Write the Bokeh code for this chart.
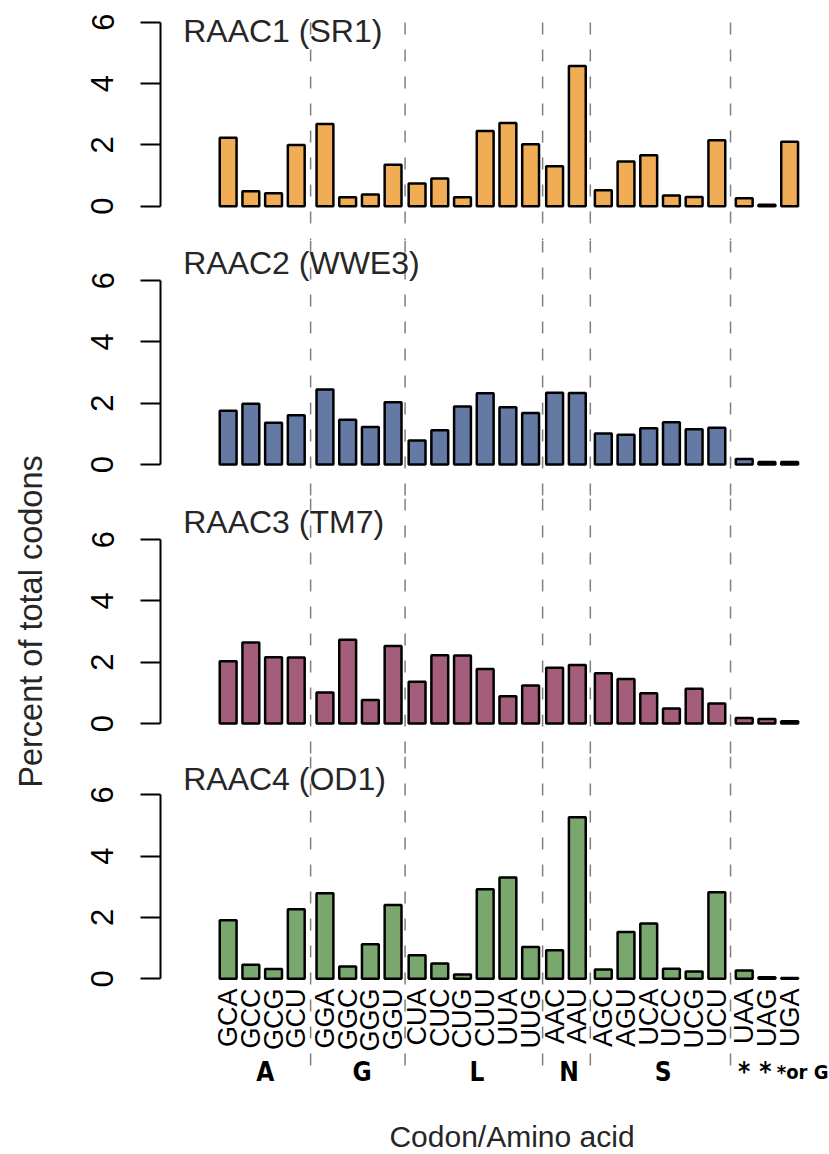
from math import pi
from bokeh.plotting import figure
from bokeh.layouts import row, column
from bokeh.models import FixedTicker, ColumnDataSource
from bokeh.core.properties import value
from bokeh.embed import file_html
from bokeh.resources import INLINE

codons = ["GCA", "GCC", "GCG", "GCU", "GGA", "GGC", "GGG", "GGU",
          "CUA", "CUC", "CUG", "CUU", "UUA", "UUG", "AAC", "AAU",
          "AGC", "AGU", "UCA", "UCC", "UCG", "UCU", "UAA", "UAG", "UGA"]
block_sizes = [4, 4, 6, 2, 6, 3]
aa_labels = ["A", "G", "L", "N", "S", "*", "*", "*or G"]
aa_sizes = [4, 4, 6, 2, 6, 1, 1, 1]

titles = ["RAAC1 (SR1)", "RAAC2 (WWE3)", "RAAC3 (TM7)", "RAAC4 (OD1)"]
colors = ["#F0AD56", "#6479A4", "#A45E7C", "#79A76D"]

sr1 = [2.23, 0.49, 0.42, 2.00, 2.68, 0.29, 0.38, 1.35, 0.74, 0.90, 0.29, 2.45,
       2.71, 2.02, 1.30, 4.57, 0.52, 1.46, 1.66, 0.35, 0.30, 2.15, 0.26, 0.05, 2.10]
wwe3 = [1.75, 1.98, 1.36, 1.61, 2.45, 1.46, 1.22, 2.03, 0.78, 1.12, 1.89, 2.32,
        1.87, 1.68, 2.34, 2.33, 1.01, 0.97, 1.18, 1.38, 1.15, 1.20, 0.18, 0.08, 0.08]
tm7 = [2.03, 2.64, 2.16, 2.15, 1.01, 2.73, 0.77, 2.53, 1.36, 2.23, 2.22, 1.78,
       0.89, 1.24, 1.82, 1.91, 1.64, 1.45, 0.99, 0.49, 1.13, 0.65, 0.18, 0.15, 0.07]
od1 = [1.91, 0.46, 0.32, 2.27, 2.79, 0.40, 1.13, 2.41, 0.77, 0.50, 0.14, 2.92,
       3.30, 1.04, 0.93, 5.27, 0.30, 1.53, 1.80, 0.33, 0.24, 2.82, 0.27, 0.05, 0.03]
series = [sr1, wwe3, tm7, od1]

# ---------------- layout constants (pixels) ----------------
PX = 18.92          # pixels per x unit
PY = 30.67          # pixels per y unit
PITCH = 1.2
BAR_W = 0.89
extra_gaps = [0.317, 0.069, 0.069, 0.174, 0.248]

LBL_W = 60
BORDER_L = 100
TOTAL_W = 829
FRAME_W = TOTAL_W - LBL_W - BORDER_L
C0 = 227.65                     # screen x of first bar centre
x0 = (LBL_W + BORDER_L - C0) / PX
x_range = (x0, x0 + FRAME_W / PX)


def sx(px):
    return (px - C0) / PX


# bar centres
centers = []
k = 0
off = 0.0
for gi, n in enumerate(block_sizes):
    if gi > 0:
        off += extra_gaps[gi - 1]
    for _ in range(n):
        centers.append(k * PITCH + off)
        k += 1
# separators
seps = []
k = 0
for gi, n in enumerate(block_sizes[:-1]):
    k += n
    seps.append((centers[k - 1] + centers[k]) / 2)
# amino acid label centres
aa_x = []
k = 0
for n in aa_sizes:
    aa_x.append((centers[k] + centers[k + n - 1]) / 2)
    k += n

heights = [240, 258, 258, 398]
top_off = [21.7, 40.0, 41.0, 38.3]       # px from fig top to y=6
title_mid = [30.8, 22.0, 23.0, 22.0]     # px from fig top to title mid-line
FONT = "Liberation Sans"

figs = []
for i in range(4):
    H = heights[i]
    ytop = 6 + top_off[i] / PY
    ybot = ytop - H / PY
    p = figure(width=TOTAL_W - LBL_W, height=H, x_range=x_range, y_range=(ybot, ytop),
               output_backend="svg", toolbar_location=None,
               x_axis_location=None, y_axis_location="left",
               min_border_left=BORDER_L, min_border_right=0,
               min_border_top=0, min_border_bottom=0, tools="")
    p.outline_line_color = None
    p.xgrid.visible = False
    p.ygrid.visible = False
    p.background_fill_color = "white"
    p.border_fill_color = "white"

    ax = p.yaxis[0]
    ax.bounds = (0, 6)
    ax.ticker = FixedTicker(ticks=[0, 2, 4, 6])
    ax.minor_tick_line_color = None
    ax.major_tick_in = 0
    ax.major_tick_out = 20
    ax.major_tick_line_width = 2
    ax.axis_line_width = 2
    ax.axis_line_color = "black"
    ax.major_tick_line_color = "black"
    ax.major_label_orientation = "vertical"
    ax.major_label_text_font = FONT
    ax.major_label_text_font_size = "31px"
    ax.major_label_text_color = "black"
    ax.major_label_standoff = 27

    # dashed separators
    yt = ytop - 22 / PY if i == 0 else ytop
    yb = ybot if i < 3 else (978.3 - 1078) / PY
    p.segment(x0=seps, y0=[yt] * len(seps), x1=seps, y1=[yb] * len(seps),
              line_color="#7f7f7f", line_width=1.5, line_dash="12 15")

    src = ColumnDataSource(dict(x=centers, top=series[i]))
    p.vbar(x="x", top="top", bottom=0, width=BAR_W, source=src,
           fill_color=colors[i], line_color="black", line_width=2.5)

    p.text(x=[sx(182.7)], y=[ytop - title_mid[i] / PY], text=[titles[i]],
           text_font=value(FONT), text_font_size="32px", text_color="#262626",
           text_baseline="middle", text_align="left")
    figs.append(p)

p4 = figs[3]
Y0_4 = 978.3
p4.text(x=centers, y=[(Y0_4 - 988) / PY] * len(centers), text=codons, angle=pi / 2,
        text_align="right", text_baseline="middle",
        text_font=value(FONT), text_font_size="27px", text_color="black")
AA_FONT = value("'Liberation Sans Narrow', 'DejaVu Sans Condensed', 'Liberation Sans', sans-serif")
aa_pos = [a + 0.16 for a in aa_x[:5]] + [aa_x[5], aa_x[6] - 0.08]
p4.text(x=aa_pos, y=[(Y0_4 - 1071) / PY] * 7, text=aa_labels[:7],
        text_align="center", text_baseline="middle",
        text_font=AA_FONT, text_font_style="bold", text_font_size="26px", text_color="black")
p4.text(x=[sx(828)], y=[(Y0_4 - 1071) / PY], text=aa_labels[7:],
        text_align="right", text_baseline="middle",
        text_font=AA_FONT, text_font_style="bold", text_font_size="20px", text_color="black")
p4.text(x=[sx(511.5)], y=[(Y0_4 - 1135.5) / PY], text=["Codon/Amino acid"],
        text_align="center", text_baseline="middle",
        text_font=value(FONT), text_font_size="30px", text_color="#262626")

TOTAL_H = sum(heights)
lab = figure(width=LBL_W, height=TOTAL_H, x_range=(0, LBL_W), y_range=(0, TOTAL_H),
             output_backend="svg", toolbar_location=None, x_axis_location=None,
             y_axis_location=None, min_border=0, tools="")
lab.outline_line_color = None
lab.xgrid.visible = False
lab.ygrid.visible = False
lab.text(x=[30], y=[TOTAL_H - 621], text=["Percent of total codons"],
         angle=pi / 2, text_align="center", text_baseline="middle",
         text_font=value(FONT), text_font_size="32.5px", text_color="#262626")

layout = row(lab, column(*figs))
open("out.html", "w").write(file_html(layout, INLINE))
